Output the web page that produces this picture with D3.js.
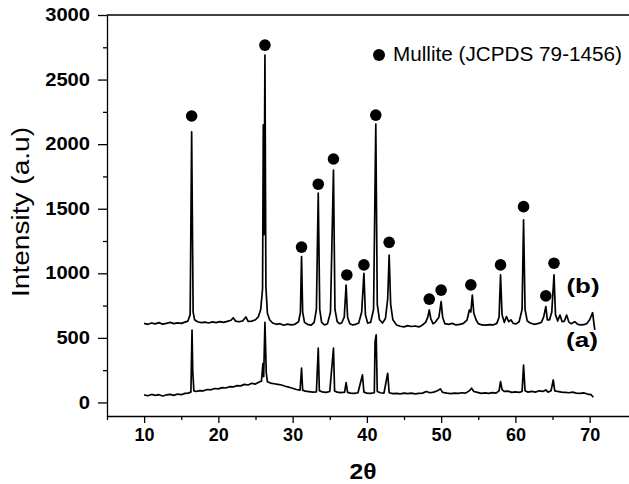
<!DOCTYPE html>
<html>
<head>
<meta charset="utf-8">
<script src="https://cdn.jsdelivr.net/npm/d3@7"></script>
<style>
  body { margin: 0; background: #fff; }
  svg { display: block; }
  svg text { font-family: "Liberation Sans", Arial, Helvetica, sans-serif; fill: #000; }
</style>
</head>
<body>
<svg id="chart" width="629" height="484"></svg>
<script>
// XRD patterns: [2theta, intensity]
const pattern_b = [
	[10.0,612],[10.5,605],[11.0,615],[11.5,608],[12.0,618],[12.5,606],[13.0,612],[13.5,620],[14.0,610],[14.5,616],
	[15.0,612],[15.5,622],[15.9,630],[16.2,680],[16.4,2096],[16.6,700],[16.8,640],[17.2,625],[17.7,618],[18.2,622],
	[18.7,615],[19.2,624],[19.7,618],[20.2,626],[20.7,620],[21.2,628],[21.7,636],[22.0,655],[22.3,630],[22.8,625],
	[23.3,632],[23.7,662],[24.0,628],[24.5,630],[25.0,640],[25.4,665],[25.7,720],[25.95,880],[26.05,2150],[26.15,1300],
	[26.27,2690],[26.4,900],[26.6,690],[26.9,640],[27.3,615],[27.8,605],[28.3,610],[28.8,598],[29.3,606],[29.8,600],
	[30.3,605],[30.8,625],[31.05,700],[31.2,1129],[31.35,700],[31.6,620],[32.0,605],[32.5,598],[32.9,620],[33.2,720],
	[33.45,1620],[33.65,720],[33.9,620],[34.3,600],[34.7,610],[35.1,700],[35.5,1800],[35.7,720],[36.0,625],[36.3,610],
	[36.6,615],[36.95,660],[37.2,909],[37.4,660],[37.7,610],[38.1,600],[38.5,605],[38.9,615],[39.3,700],[39.6,1000],
	[39.8,680],[40.1,615],[40.5,620],[40.9,720],[41.2,2155],[41.4,760],[41.7,640],[42.1,615],[42.5,650],[42.8,800],
	[43.0,1141],[43.2,760],[43.5,640],[44.0,600],[44.5,590],[45.0,585],[45.5,595],[46.0,588],[46.5,592],[47.0,585],
	[47.5,600],[47.9,620],[48.2,660],[48.4,716],[48.6,650],[48.9,610],[49.2,620],[49.7,660],[50.0,780],[50.2,660],
	[50.5,610],[51.0,605],[51.5,612],[52.0,600],[52.5,605],[53.0,612],[53.5,640],[53.8,716],[54.0,700],[54.2,832],
	[54.4,690],[54.7,640],[55.0,610],[55.5,600],[56.0,598],[56.5,602],[57.0,600],[57.5,612],[57.8,660],[58.0,987],
	[58.2,680],[58.5,620],[58.8,665],[59.1,625],[59.4,640],[59.7,612],[60.1,608],[60.5,625],[60.9,720],[61.1,1413],
	[61.3,720],[61.6,630],[62.0,615],[62.5,605],[63.0,610],[63.5,620],[63.8,660],[64.1,742],[64.3,640],[64.6,640],
	[64.9,700],[65.2,987],[65.4,680],[65.7,630],[66.0,677],[66.3,625],[66.6,630],[66.9,677],[67.2,622],[67.5,610],
	[68.0,625],[68.4,605],[68.8,600],[69.2,602],[69.6,610],[70.0,640],[70.4,695],[70.6,600],[70.7,561]
];

const pattern_a = [
	[10.0,58],[10.5,52],[11.0,62],[11.5,55],[12.0,60],[12.5,50],[13.0,58],[13.5,62],[14.0,55],[14.5,65],
	[15.0,60],[15.5,70],[15.9,72],[16.3,80],[16.45,561],[16.55,238],[16.7,90],[17.0,85],[17.5,92],[18.0,90],
	[18.5,100],[19.0,98],[19.5,108],[20.0,105],[20.5,115],[21.0,112],[21.5,122],[22.0,120],[22.5,130],[23.0,128],
	[23.5,140],[24.0,135],[24.5,148],[25.0,142],[25.5,158],[25.8,165],[26.0,300],[26.1,200],[26.27,620],[26.45,230],
	[26.6,160],[27.0,150],[27.5,145],[28.0,140],[28.5,135],[29.0,125],[29.5,118],[30.0,110],[30.5,100],[31.0,95],
	[31.2,265],[31.35,95],[31.7,88],[32.2,84],[32.7,80],[33.2,82],[33.45,420],[33.6,90],[34.0,82],[34.5,78],
	[35.0,85],[35.5,420],[35.65,88],[36.0,80],[36.5,76],[37.0,80],[37.2,153],[37.4,78],[37.8,72],[38.3,70],
	[38.8,75],[39.4,213],[39.6,80],[40.0,72],[40.5,70],[41.0,75],[41.1,470],[41.25,523],[41.4,85],[41.8,75],
	[42.3,72],[42.8,226],[43.0,75],[43.5,68],[44.0,70],[44.5,66],[45.0,72],[45.5,68],[46.0,72],[46.5,66],
	[47.0,70],[47.5,72],[48.0,85],[48.5,75],[49.0,80],[49.5,90],[49.9,105],[50.2,78],[50.8,72],[51.3,68],
	[51.8,72],[52.3,70],[52.8,75],[53.3,72],[53.8,90],[54.1,110],[54.4,85],[54.9,78],[55.4,70],[55.9,74],
	[56.4,70],[56.9,76],[57.4,72],[57.8,90],[58.0,161],[58.2,100],[58.5,85],[59.0,88],[59.5,78],[60.0,82],
	[60.5,78],[60.9,85],[61.1,290],[61.3,90],[61.7,80],[62.2,85],[62.7,80],[63.2,90],[63.7,85],[64.1,97],
	[64.4,80],[64.8,90],[65.1,174],[65.3,90],[65.7,85],[66.2,80],[66.7,78],[67.2,75],[67.7,80],[68.2,72],
	[68.7,70],[69.2,74],[69.7,65],[70.2,60],[70.5,40]
];

// mullite reflections marked with dots above pattern (b)
const mullite_marks = [
	[16.4,2218],[26.27,2767],[31.2,1203],[33.45,1690],[35.5,1885],[37.3,987],[39.6,1065],[41.2,2225],
	[43.0,1240],[48.4,800],[50.0,870],[54.0,910],[58.0,1065],[61.1,1516],[64.1,825],[65.2,1078]
];

const x_major = [10, 20, 30, 40, 50, 60, 70];
const x_minor = [5, 15, 25, 35, 45, 55, 65];
const y_major = [0, 500, 1000, 1500, 2000, 2500, 3000];
const y_minor = [250, 750, 1250, 1750, 2250, 2750];

const legend_text = "Mullite (JCPDS 79-1456)";
const x_title = "2θ";
const y_title = "Intensity (a.u)";

const plotLeft = 107, plotRight = 629, plotTop = 15, plotBottom = 416;

const svg = d3.select("#chart");

const x = d3.scaleLinear().domain([5, 75.3]).range([plotLeft, plotRight]);
const y = d3.scaleLinear().domain([-105, 3000]).range([plotBottom, plotTop]);

// frame line along the top
svg.append("line")
	.attr("x1", plotLeft).attr("x2", plotRight)
	.attr("y1", plotTop).attr("y2", plotTop)
	.style("stroke", "#000").style("stroke-width", 1.3);

// x axis
let gx = svg.append("g").attr("transform", "translate(0," + plotBottom + ")");
gx.call(d3.axisBottom(x).tickValues(x_major).tickFormat(d3.format("d"))
	.tickSize(7).tickSizeOuter(0).tickPadding(5));
gx.append("g").call(d3.axisBottom(x).tickValues(x_minor).tickSize(4).tickFormat(""))
	.select(".domain").remove();
gx.attr("font-family", null);
gx.selectAll("text")
	.style("font-size", "18px").style("font-weight", "bold");

// y axis
let gy = svg.append("g").attr("transform", "translate(" + plotLeft + ",0)");
gy.call(d3.axisLeft(y).tickValues(y_major).tickFormat(d3.format("d"))
	.tickSize(9).tickSizeOuter(0).tickPadding(8));
gy.append("g").call(d3.axisLeft(y).tickValues(y_minor).tickSize(4).tickFormat(""))
	.select(".domain").remove();
gy.attr("font-family", null);
gy.selectAll("text")
	.filter(d => y_major.includes(d))
	.style("font-size", "17.5px").style("font-weight", "bold")
	.attr("textLength", d => String(d).length * 11.2)
	.attr("lengthAdjust", "spacingAndGlyphs");

svg.selectAll(".domain, .tick line").style("stroke", "#000").style("stroke-width", 1.3);

// titles
svg.append("text")
	.attr("x", 363).attr("y", 479)
	.attr("text-anchor", "middle")
	.style("font-size", "22px").style("font-weight", "bold")
	.attr("textLength", 27).attr("lengthAdjust", "spacingAndGlyphs")
	.text(x_title);

svg.append("text")
	.attr("transform", "translate(29,212) rotate(-90)")
	.attr("text-anchor", "middle")
	.style("font-size", "23px")
	.attr("textLength", 170).attr("lengthAdjust", "spacingAndGlyphs")
	.text(y_title);

// patterns
const line = d3.line().x(d => x(d[0])).y(d => y(d[1]));

[pattern_b, pattern_a].forEach(p => {
	svg.append("path")
		.datum(p)
		.attr("d", line)
		.style("fill", "none")
		.style("stroke", "#000")
		.style("stroke-width", 1.7)
		.style("stroke-linejoin", "round");
});

svg.selectAll(".mark")
	.data(mullite_marks)
	.join("circle")
	.attr("class", "mark")
	.attr("cx", d => x(d[0]))
	.attr("cy", d => y(d[1]))
	.attr("r", 5.8)
	.style("fill", "#000");

// pattern labels
svg.append("text")
	.attr("x", 583).attr("y", 293)
	.attr("text-anchor", "middle")
	.style("font-size", "21px").style("font-weight", "bold")
	.attr("textLength", 33).attr("lengthAdjust", "spacingAndGlyphs")
	.text("(b)");

svg.append("text")
	.attr("x", 582).attr("y", 347)
	.attr("text-anchor", "middle")
	.style("font-size", "21px").style("font-weight", "bold")
	.attr("textLength", 32).attr("lengthAdjust", "spacingAndGlyphs")
	.text("(a)");

// legend
svg.append("circle")
	.attr("cx", 379).attr("cy", 55)
	.attr("r", 6)
	.style("fill", "#000");

svg.append("text")
	.attr("x", 393).attr("y", 61)
	.style("font-size", "20.5px")
	.attr("textLength", 229).attr("lengthAdjust", "spacingAndGlyphs")
	.text(legend_text);
</script>
</body>
</html>
